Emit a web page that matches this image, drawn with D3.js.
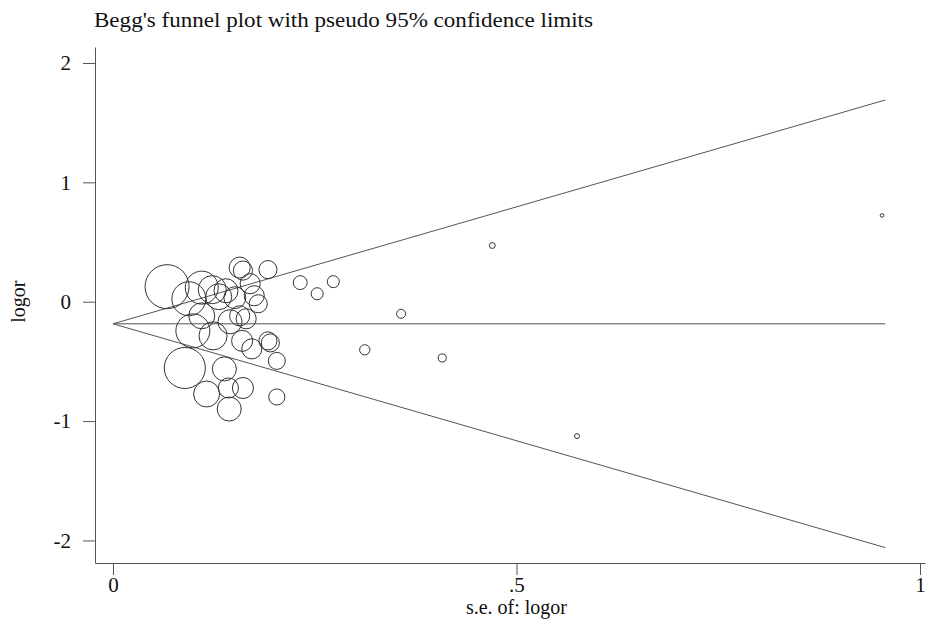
<!DOCTYPE html>
<html>
<head>
<meta charset="utf-8">
<script src="https://cdn.jsdelivr.net/npm/d3@7"></script>
<style>
  body { margin: 0; background: #fff; }
  svg text { font-family: "Liberation Serif", "DejaVu Serif", serif; fill: #111; }
</style>
</head>
<body>
<div id="chart"></div>
<script>
// study standard errors, log odds ratios and weights
var seValues = [0.067, 0.089, 0.094, 0.099, 0.110, 0.123, 0.124, 0.116, 0.131, 0.140,
                0.138, 0.144, 0.143, 0.145, 0.157, 0.161, 0.170, 0.175, 0.180, 0.157,
                0.165, 0.160, 0.172, 0.161, 0.192, 0.195, 0.192, 0.203, 0.203, 0.232,
                0.253, 0.273, 0.312, 0.357, 0.408, 0.470, 0.575, 0.953, 0.110, 0.151];
var logorValues = [0.126, -0.555, 0.025, -0.244, 0.118, 0.101, -0.286, -0.773, 0.042, 0.092,
                   -0.563, -0.899, -0.723, -0.168, 0.286, 0.261, 0.151, 0.050, -0.017, -0.118,
                   -0.143, -0.328, -0.395, -0.723, -0.328, -0.345, 0.269, -0.496, -0.798, 0.160,
                   0.067, 0.168, -0.403, -0.101, -0.471, 0.471, -1.126, 0.723, -0.118, 0.034];
var weights = [201, 175, 120, 120, 113, 82, 82, 70, 70, 60,
               60, 60, 42, 60, 46, 38, 42, 42, 34, 42,
               42, 46, 42, 46, 34, 34, 34, 30, 27, 20,
               15, 15, 11, 8.4, 6.7, 3.7, 2.6, 1.35, 70, 50];

// pseudo 95% confidence limits (endpoints at se = 0 and se = max)
var limitSe = [0, 0.957];
var pooledLogor = [-0.185, -0.185];
var upperLimit = [-0.185, 1.69];
var lowerLimit = [-0.185, -2.06];

// axis ticks
var xTicks = [0, 0.5, 1];
var xTickLabels = ['0', '.5', '1'];
var yTicks = [2, 1, 0, -1, -2];
var yTickLabels = ['2', '1', '0', '-1', '-2'];

var title = "Begg's funnel plot with pseudo 95% confidence limits";
var xLabel = 's.e. of: logor';
var yLabel = 'logor';

var width = 930, height = 619;

var svg = d3.select('#chart').append('svg')
    .attr('width', width)
    .attr('height', height);

var x = d3.scaleLinear().domain([-0.0223, 1.0062]).range([95, 925]);
var y = d3.scaleLinear().domain([-2.189, 2.134]).range([563, 47]);
var r = d3.scaleSqrt().domain([0, d3.max(weights)]).range([0, 22]);

// title
svg.append('text')
    .attr('x', 94)
    .attr('y', 27)
    .attr('textLength', 499)
    .attr('lengthAdjust', 'spacingAndGlyphs')
    .style('font-size', '21px')
    .text(title);

// x axis
var gx = svg.append('g')
    .attr('transform', 'translate(0,563)')
    .call(d3.axisBottom(x)
      .tickValues(xTicks)
      .tickFormat(function(d, i) { return xTickLabels[i]; })
      .tickSize(12)
      .tickSizeOuter(0));
gx.select('.domain').attr('stroke', '#555');
gx.selectAll('.tick line').attr('stroke', '#555');
gx.selectAll('.tick text')
    .attr('y', 14)
    .style('font-size', '21px')
    .attr('fill', '#111');

// y axis
var gy = svg.append('g')
    .attr('transform', 'translate(95,0)')
    .call(d3.axisLeft(y)
      .tickValues(yTicks)
      .tickFormat(function(d, i) { return yTickLabels[i]; })
      .tickSize(12)
      .tickSizeOuter(0));
gy.select('.domain').attr('stroke', '#555');
gy.selectAll('.tick line').attr('stroke', '#555');
gy.selectAll('.tick text')
    .attr('x', -24)
    .style('font-size', '21px')
    .attr('fill', '#111');

// axis titles
svg.append('text')
    .attr('x', x(0.5))
    .attr('y', 614)
    .attr('text-anchor', 'middle')
    .style('font-size', '20px')
    .text(xLabel);

svg.append('text')
    .attr('transform', 'translate(25,' + y(0) + ') rotate(-90)')
    .attr('text-anchor', 'middle')
    .style('font-size', '20px')
    .text(yLabel);

// funnel lines
var line = d3.line()
    .x(function(d) { return x(d[0]); })
    .y(function(d) { return y(d[1]); });

[upperLimit, pooledLogor, lowerLimit].forEach(function(lim) {
  svg.append('path')
      .datum(d3.zip(limitSe, lim))
      .attr('d', line)
      .attr('fill', 'none')
      .attr('stroke', '#555')
      .attr('stroke-width', 1);
});

// studies
var studies = d3.range(seValues.length).map(function(i) {
  return {se: seValues[i], logor: logorValues[i], w: weights[i]};
});

svg.append('g').selectAll('circle')
    .data(studies)
  .enter().append('circle')
    .attr('cx', function(d) { return x(d.se); })
    .attr('cy', function(d) { return y(d.logor); })
    .attr('r', function(d) { return r(d.w); })
    .attr('fill', 'none')
    .attr('stroke', '#333')
    .attr('stroke-width', 1);
</script>
</body>
</html>
